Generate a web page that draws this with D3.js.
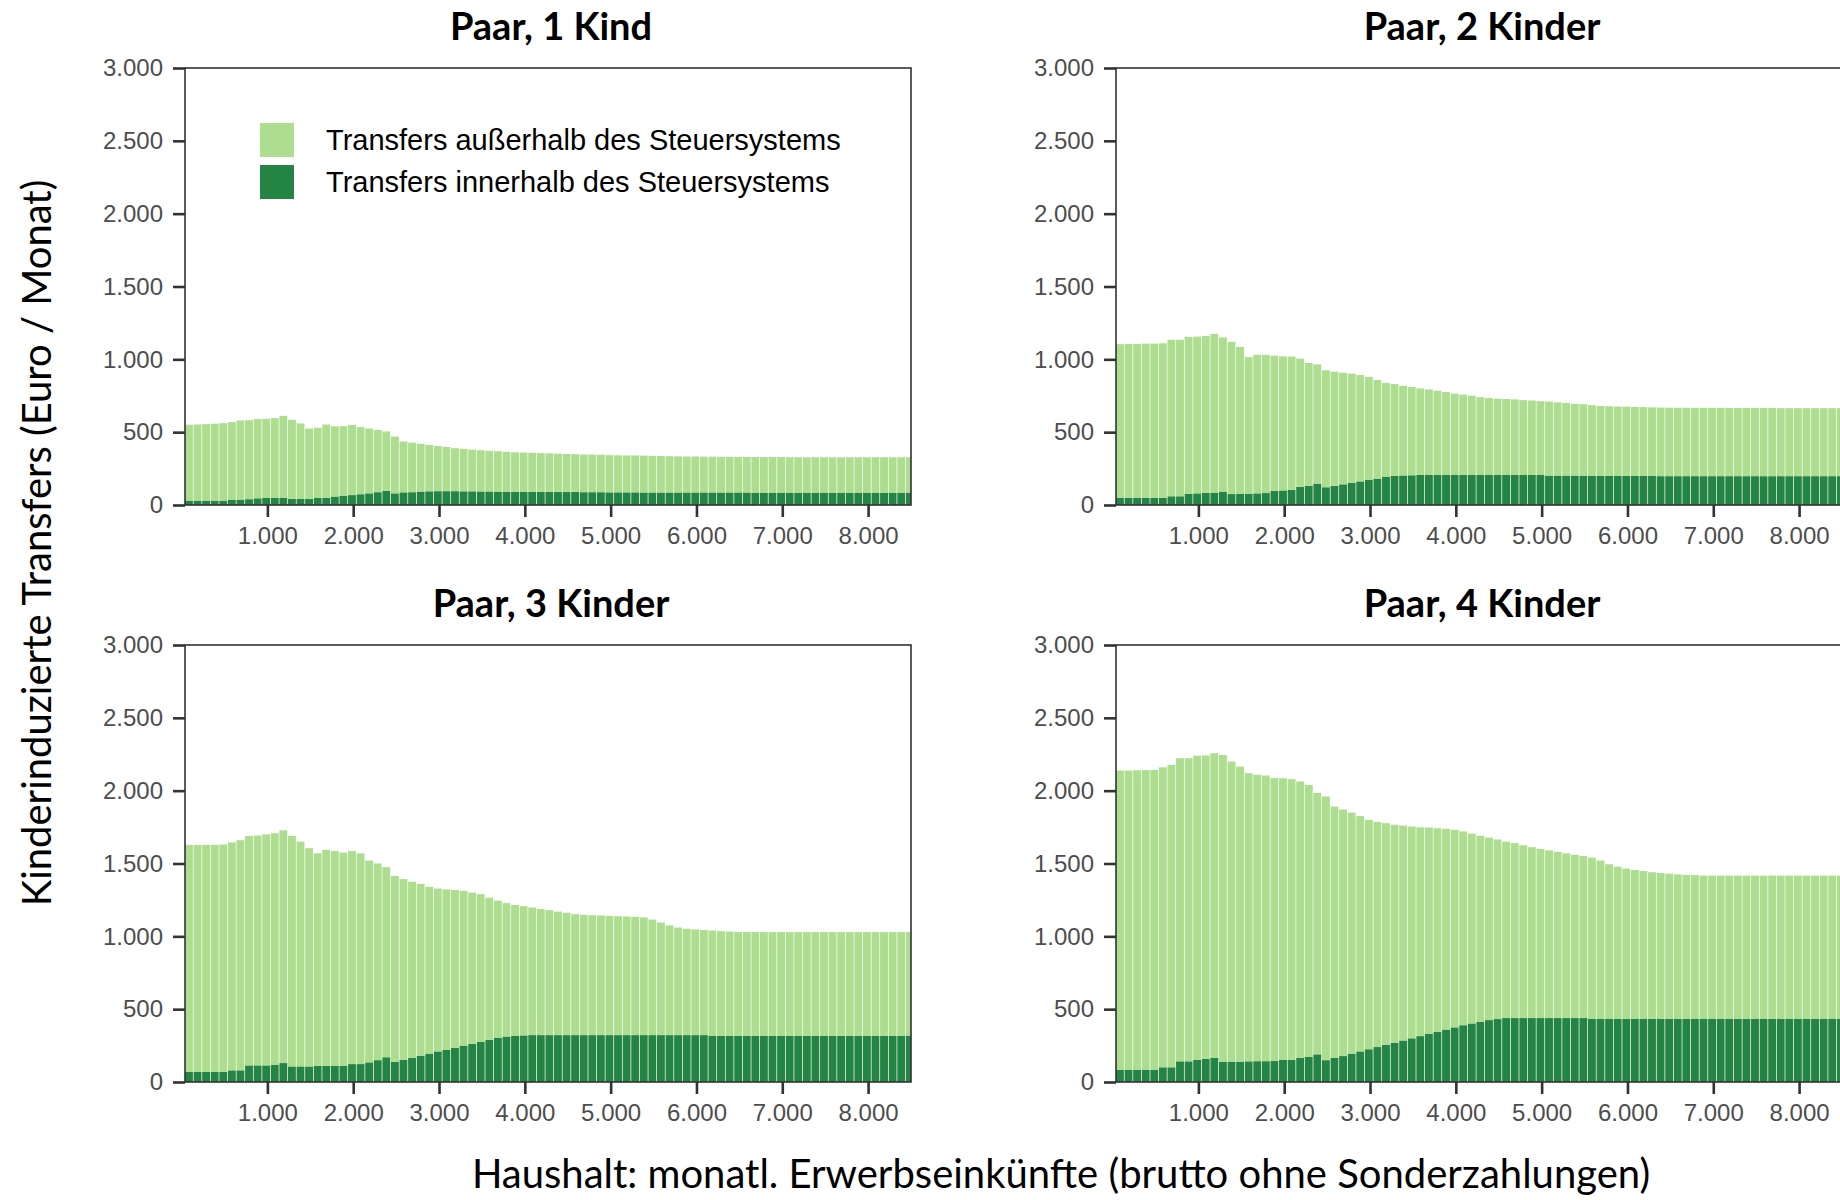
<html>
<head>
<script src="https://d3js.org/d3.v7.min.js"></script>
<style>
body { margin: 0; background: #fff; }
text { font-family: "Liberation Sans", Arial, sans-serif; }
.titel { font-family: Lato, "Open Sans", sans-serif; font-weight: bold; font-size: 38px; fill: #000; }
.achse { font-family: Lato, "Open Sans", sans-serif; font-size: 40px; fill: #000; }
</style>
</head>
<body>
<svg width="1840" height="1200"></svg>

<script>
// Einkommen: Mitte der 100-Euro-Klassen
var einkommen = d3.range(90, 8500, 100);

var xTicks = [1000, 2000, 3000, 4000, 5000, 6000, 7000, 8000];
var yTicks = [0, 500, 1000, 1500, 2000, 2500, 3000];

var serien = ["Transfers außerhalb des Steuersystems", "Transfers innerhalb des Steuersystems"];
var titel = ["Paar, 1 Kind", "Paar, 2 Kinder", "Paar, 3 Kinder", "Paar, 4 Kinder"];

// Paar, 1 Kind
var kind1Innen = [30,30,30,30,30, 37,37,40,46,48, 50,50,42,42,42, 48,50,58,64,68,
  74,80,88,98,80, 87,88,92,94,95, 95,95,94,94,93, 93,92,92,91,91, 90,90,90,89,89,
  89,88,88,88,87, 87,87,87,86,86, 86,86,86,86,86, 86,86,86,86,86, 86,85,85,85,85,
  85,85,85,85,85, 85,85,85,85,85, 85,85,85,85,85];
var kind1Aussen = [521,523,525,528,532, 532,543,542,544,544, 546,562,543,518,483,
  482,502,482,477,482, 461,445,427,407,390, 349,340,328,318,310, 303,295,291,286,283,
  279,277,273,271,269, 268,266,265,263,261, 260,259,258,257,255, 254,253,253,253,251,
  250,249,248,247,247, 246,246,245,245,244, 244,244,244,244,244, 243,243,243,243,243,
  243,243,243,243,243, 243,243,243,243,243];

// Paar, 2 Kinder
var kind2Innen = [50,50,50,50,50, 50,60,60,78,80, 83,85,92,75,76, 78,80,82,96,100,
  105,124,132,147,122, 132,142,152,162,172, 181,195,200,203,204, 206,206,206,206,206,
  206,206,206,206,206, 206,206,206,206,206, 202,202,202,202,202, 201,201,201,201,201,
  201,201,201,198,198, 198,198,198,198,198, 198,198,198,198,198, 198,198,198,198,198,
  198,198,198,198,198];
var kind2Aussen = [1054,1055,1056,1058,1058, 1060,1074,1074,1076,1076, 1077,1090,1058,1045,1009,
  937,951,949,929,920, 914,881,843,818,803, 783,766,750,730,708, 677,643,630,615,606,
  594,587,579,569,559, 552,544,534,529,524, 522,519,514,511,507, 508,503,498,493,490,
  484,479,477,475,474, 472,471,469,471,470, 470,470,469,469,469, 469,468,468,468,468,
  468,468,467,467,467, 467,467,467,467,467];

// Paar, 3 Kinder
var kind3Innen = [69,69,69,69,69, 80,80,114,114,114, 119,130,107,107,107, 112,112,112,112,123,
  123,135,150,170,138, 153,165,180,195,210, 220,235,250,262,275, 290,302,312,316,320,
  322,322,322,322,322, 322,322,322,322,322, 322,322,322,322,322, 322,322,322,322,322,
  322,318,318,318,318, 318,318,318,318,318, 318,318,318,318,318, 318,318,318,318,318,
  318,318,318,318,318];
var kind3Aussen = [1559,1559,1559,1559,1561, 1565,1580,1576,1578,1586, 1589,1598,1583,1543,1498,
  1458,1482,1473,1463,1462, 1447,1385,1350,1305,1277, 1240,1210,1180,1145,1118,
  1102,1083,1062,1038,1015, 975,943,916,899,887, 876,866,858,848,840, 830,826,823,821,818,
  816,814,812,808,793, 773,753,738,730,725, 721,722,718,715,712, 712,712,711,711,711,
  711,711,711,711,711, 711,711,711,711,711, 711,711,711,711,711];

// Paar, 4 Kinder
var kind4Innen = [85,85,85,85,85, 101,101,142,142,153, 160,167,140,140,140, 142,143,143,144,153,
  153,165,172,190,150, 165,178,195,210,225, 240,256,270,285,300, 315,330,345,360,375,
  390,402,412,425,432, 439,439,439,439,439, 439,439,439,439,439, 435,435,435,435,435,
  435,435,435,435,435, 435,435,435,435,435, 435,435,435,435,435, 435,435,435,435,435,
  435,435,435,435,435];
var kind4Aussen = [2053,2053,2055,2056,2058, 2059,2076,2081,2081,2087, 2082,2090,2105,2060,2025,
  1978,1966,1961,1942,1932, 1926,1898,1868,1795,1810, 1726,1692,1655,1615,1575,
  1545,1521,1496,1475,1454, 1433,1417,1397,1378,1356, 1330,1303,1278,1253,1233,
  1211,1201,1186,1173,1161, 1151,1141,1131,1121,1113, 1105,1085,1060,1043,1030,
  1020,1013,1005,1000,995, 990,987,985,982,982, 982,982,982,982,982, 982,982,982,982,982,
  982,982,982,982,982];

var hell = "#addd8e";
var dunkel = "#238443";

var svg = d3.select("svg");
var breite = 726, hoehe = 437;
var lagen = [[185, 68], [1116, 68], [185, 645], [1116, 645]];
var innenListe = [kind1Innen, kind2Innen, kind3Innen, kind4Innen];
var aussenListe = [kind1Aussen, kind2Aussen, kind3Aussen, kind4Aussen];

var de = d3.formatLocale({decimal: ",", thousands: ".", grouping: [3], currency: ["", " €"]});
var fmt = de.format(",d");

var xscale = d3.scaleLinear().domain([40, 8500]).range([0, breite]);
var yscale = d3.scaleLinear().domain([0, 3000]).range([hoehe, 0]);

svg.append("defs").append("clipPath").attr("id", "clip")
  .append("rect").attr("width", breite).attr("height", hoehe);

for (var p = 0; p < 4; p++) {
  var g = svg.append("g").attr("transform", "translate(" + lagen[p][0] + "," + lagen[p][1] + ")");
  var innen = innenListe[p], aussen = aussenListe[p];
  var balken = g.append("g").attr("clip-path", "url(#clip)");

  for (var i = 0; i < einkommen.length; i++) {
    var x0 = xscale(einkommen[i] - 50), x1 = xscale(einkommen[i] + 50);
    balken.append("rect")
      .attr("x", x0).attr("width", x1 - x0 - 0.7)
      .attr("y", yscale(innen[i])).attr("height", yscale(0) - yscale(innen[i]))
      .attr("fill", dunkel);
    balken.append("rect")
      .attr("x", x0).attr("width", x1 - x0 - 0.7)
      .attr("y", yscale(innen[i] + aussen[i])).attr("height", yscale(innen[i]) - yscale(innen[i] + aussen[i]))
      .attr("fill", hell);
  }

  // Rahmen
  g.append("rect").attr("width", breite).attr("height", hoehe)
    .attr("fill", "none").attr("stroke", "#333").attr("stroke-width", 1.6);

  var yaxis = d3.axisLeft(yscale).tickValues(yTicks).tickFormat(fmt).tickSize(12).tickPadding(10);
  var ya = g.append("g").call(yaxis);
  var xaxis = d3.axisBottom(xscale).tickValues(xTicks).tickFormat(fmt).tickSize(12).tickPadding(10);
  var xa = g.append("g").attr("transform", "translate(0," + hoehe + ")").call(xaxis);
  [ya, xa].forEach(function(a) {
    a.select(".domain").remove();
    a.selectAll("line").attr("stroke", "#333").attr("stroke-width", 2.6);
    a.selectAll("text").attr("fill", "#4d4d4d")
      .style("font-family", "'Liberation Sans', Arial, sans-serif").style("font-size", "24px");
  });

  svg.append("text").attr("class", "titel")
    .attr("x", lagen[p][0] + breite / 2 + 3).attr("y", lagen[p][1] - 28)
    .attr("text-anchor", "middle").text(titel[p]);
}

// Legende im ersten Panel
var leg = svg.append("g").attr("transform", "translate(260,123)");
[hell, dunkel].forEach(function(farbe, k) {
  leg.append("rect").attr("x", 0).attr("y", k * 42).attr("width", 34).attr("height", 34).attr("fill", farbe);
  leg.append("text").attr("x", 66).attr("y", k * 42 + 17).attr("dy", "0.36em")
    .style("font-size", "29px").attr("fill", "#000").text(serien[k]);
});

svg.append("text").attr("class", "achse")
  .attr("transform", "translate(51,543) rotate(-90)")
  .attr("text-anchor", "middle")
  .text("Kinderinduzierte Transfers (Euro / Monat)");

svg.append("text").attr("class", "achse")
  .attr("x", 1061).attr("y", 1188)
  .attr("text-anchor", "middle")
  .text("Haushalt: monatl. Erwerbseinkünfte (brutto ohne Sonderzahlungen)");
</script>
</body>
</html>
